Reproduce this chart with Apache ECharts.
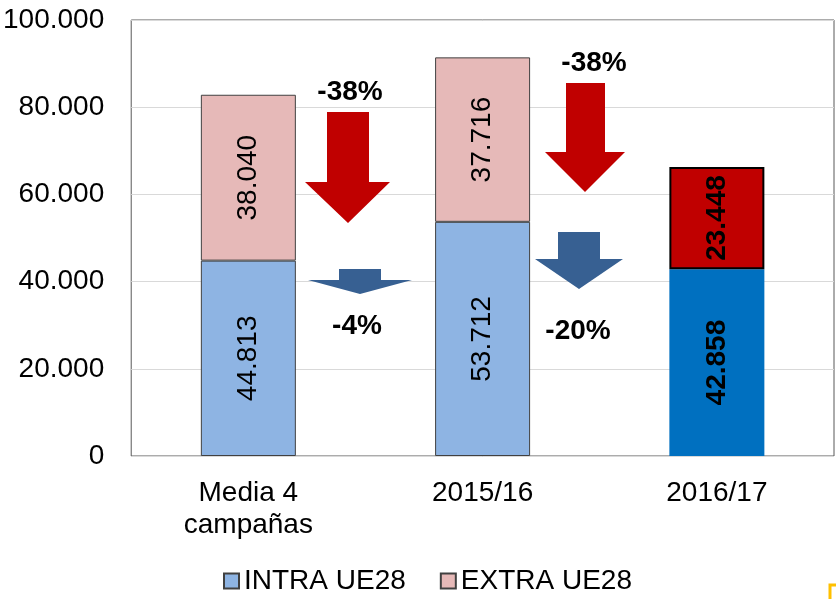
<!DOCTYPE html>
<html>
<head>
<meta charset="utf-8">
<script src="https://cdn.jsdelivr.net/npm/echarts@6/dist/echarts.min.js"></script>
<style>
  html, body { margin: 0; padding: 0; background: #fff; }
  #main { width: 836px; height: 599px; }
</style>
</head>
<body>
<div id="main"></div>
<script>
// datos
var categorias = ['Media 4\ncampañas', '2015/16', '2016/17'];
var intraUE28 = [44813, 53712, 42858];
var extraUE28 = [38040, 37716, 23448];
var yTicks = [0, 20000, 40000, 60000, 80000, 100000];
var variaciones = ['-38%', '-38%', '-4%', '-20%'];

var FONT = 'Liberation Sans, Arial, sans-serif';

// 44813 -> 44.813
function fmt(v) {
  return String(v).replace(/\B(?=(\d{3})+(?!\d))/g, '.');
}

var chart = echarts.init(document.getElementById('main'));

// ultima campaña con colores fuertes
var intraData = intraUE28.map(function (v, i) {
  if (i === 2) {
    return { value: v, itemStyle: { color: '#0070C0', borderWidth: 0 }, label: { fontWeight: 'bold' } };
  }
  return v;
});
var extraData = extraUE28.map(function (v, i) {
  if (i === 2) {
    return { value: v, itemStyle: { color: '#C00000', borderColor: '#000', borderWidth: 2 }, label: { fontWeight: 'bold' } };
  }
  return v;
});

var labelCfg = {
  show: true,
  position: 'inside',
  rotate: 90,
  fontSize: 28,
  fontFamily: FONT,
  color: '#000',
  formatter: function (p) { return fmt(p.value); }
};

// flechas (anotaciones)
function arrow(x1, x2, top, headY, hx1, hx2, tipX, tipY, color) {
  return {
    type: 'polygon',
    shape: { points: [[x1, top], [x2, top], [x2, headY], [hx2, headY], [tipX, tipY], [hx1, headY], [x1, headY]] },
    style: { fill: color },
    z: 100
  };
}
function pct(txt, x, y) {
  return {
    type: 'text', x: x, y: y, z: 101,
    style: { text: txt, fontSize: 28, fontWeight: 'bold', fontFamily: FONT, fill: '#000', align: 'center', verticalAlign: 'middle' }
  };
}

var option = {
  backgroundColor: '#fff',
  animation: false,
  grid: {
    left: 131, right: 2, top: 20, bottom: 143,
    show: true, borderColor: '#595959', borderWidth: 1
  },
  legend: {
    data: ['INTRA UE28', 'EXTRA UE28'],
    icon: 'rect',
    left: 218,
    top: 562,
    itemWidth: 15,
    itemHeight: 15,
    itemGap: 34,
    textStyle: { fontSize: 28, fontFamily: FONT, color: '#000' }
  },
  xAxis: {
    type: 'category',
    data: categorias,
    axisLine: { show: false },
    axisTick: { show: false },
    axisLabel: { fontSize: 28, fontFamily: FONT, color: '#000', margin: 21, lineHeight: 32 }
  },
  yAxis: {
    type: 'value',
    min: 0,
    max: 100000,
    interval: 20000,
    axisLine: { show: false },
    axisTick: { show: false },
    splitLine: { lineStyle: { color: '#d9d9d9', width: 1 } },
    axisLabel: {
      fontSize: 28, fontFamily: FONT, color: '#000', margin: 27,
      formatter: function (v) { return yTicks.indexOf(v) >= 0 ? fmt(v) : ''; }
    }
  },
  series: [
    {
      name: 'INTRA UE28',
      type: 'bar',
      stack: 'total',
      barWidth: 95,
      data: intraData,
      itemStyle: { color: '#8EB4E3', borderColor: '#404040', borderWidth: 1 },
      label: labelCfg
    },
    {
      name: 'EXTRA UE28',
      type: 'bar',
      stack: 'total',
      barWidth: 95,
      data: extraData,
      itemStyle: { color: '#E6B9B8', borderColor: '#404040', borderWidth: 1 },
      label: labelCfg
    }
  ],
  graphic: [
    arrow(327, 369, 112, 182, 305, 390, 348, 223, '#C00000'),
    arrow(566, 605, 83, 152, 545, 625, 585, 192, '#C00000'),
    arrow(339, 381, 269, 280, 308, 412, 360, 294, '#376092'),
    arrow(558, 600, 232, 259, 535, 623, 579, 289, '#376092'),
    pct(variaciones[0], 350, 92),
    pct(variaciones[1], 594, 63),
    pct(variaciones[2], 357, 326),
    pct(variaciones[3], 578, 331),
    {
      type: 'polyline', z: 100,
      shape: { points: [[830, 599], [830, 585], [836, 585]] },
      style: { stroke: '#FFC000', lineWidth: 3, fill: null }
    }
  ]
};

chart.setOption(option);
</script>
</body>
</html>
